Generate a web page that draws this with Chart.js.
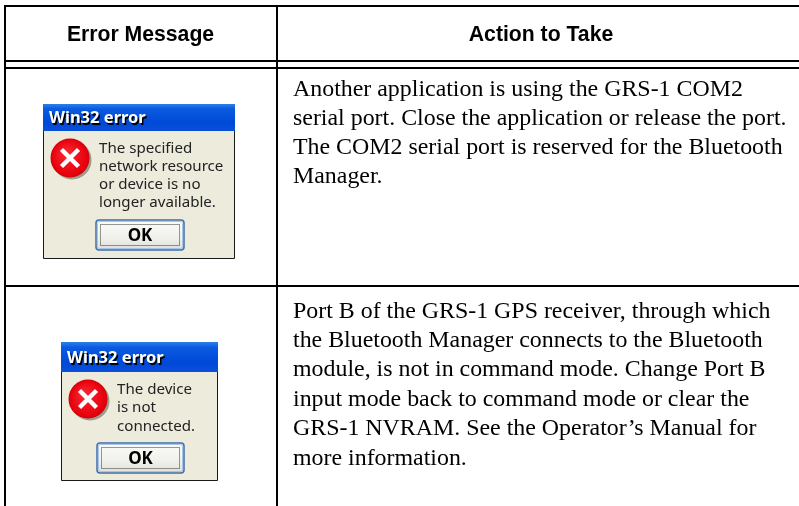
<!DOCTYPE html>
<html>
<head>
<meta charset="utf-8">
<style>
html, body { margin: 0; padding: 0; background: #fff; overflow: hidden; }
canvas { display: block; }
</style>
<script src="https://cdn.jsdelivr.net/npm/chart.js@4"></script>
</head>
<body>
<canvas id="table_chart" width="799" height="506"></canvas>
<script>
const headers = ['Error Message', 'Action to Take'];
const dialogTitle = 'Win32 error';
const buttonLabel = 'OK';
const messageOne = ['The specified', 'network resource', 'or device is no', 'longer available.'];
const messageTwo = ['The device', 'is not', 'connected.'];
const actionOne = [
    'Another application is using the GRS-1 COM2',
    'serial port. Close the application or release the port.',
    'The COM2 serial port is reserved for the Bluetooth',
    'Manager.'
];
const actionTwo = [
    'Port B of the GRS-1 GPS receiver, through which',
    'the Bluetooth Manager connects to the Bluetooth',
    'module, is not in command mode. Change Port B',
    'input mode back to command mode or clear the',
    'GRS-1 NVRAM. See the Operator\u2019s Manual for',
    'more information.'
];

// table rules, in page units (the scales below map 1:1 to the canvas)
const rowRules = [6, 61, 68, 286];
const columnRules = [5, 277];

const ruleSets = [
    ...rowRules.map(y => [{ x: 4, y: y }, { x: 799, y: y }]),
    ...columnRules.map(x => [{ x: x, y: 5 }, { x: x, y: 506 }])
];

function roundRect(ctx, x, y, w, h, r) {
    ctx.beginPath();
    ctx.roundRect(x, y, w, h, r);
}

function drawDialog(ctx, sx, sy, d) {
    const x = sx(d.x), y = sy(d.y), w = sx(d.x2) - x, h = sy(d.y2) - y;
    const titleH = sy(d.titleBottom) - y;

    ctx.fillStyle = '#ecebdc';
    ctx.fillRect(x, y, w, h);

    const grad = ctx.createLinearGradient(0, y, 0, y + titleH);
    grad.addColorStop(0, '#2f7fe8');
    grad.addColorStop(0.18, '#0a5be0');
    grad.addColorStop(0.7, '#0048d8');
    grad.addColorStop(1, '#0a50d8');
    ctx.fillStyle = grad;
    ctx.fillRect(x, y, w, titleH);

    ctx.strokeStyle = '#1a1a1a';
    ctx.lineWidth = 1;
    ctx.beginPath();
    ctx.moveTo(x + 0.5, y + titleH);
    ctx.lineTo(x + 0.5, y + h - 0.5);
    ctx.lineTo(x + w - 0.5, y + h - 0.5);
    ctx.lineTo(x + w - 0.5, y + titleH);
    ctx.stroke();

    ctx.filter = 'blur(0.4px)';

    // title
    ctx.textAlign = 'left';
    ctx.textBaseline = 'alphabetic';
    ctx.font = 'bold 16.5px "Noto Sans"';
    ctx.fillStyle = '#000';
    ctx.fillText(dialogTitle, sx(d.titleX) + 1.5, sy(d.titleY) + 1.5);
    ctx.fillStyle = '#fff';
    ctx.fillText(dialogTitle, sx(d.titleX), sy(d.titleY));

    // icon
    const cx = sx(d.iconX), cy = sy(d.iconY);
    ctx.fillStyle = 'rgba(90,90,80,0.55)';
    ctx.beginPath();
    ctx.arc(cx + 2, cy + 2, 19.5, 0, Math.PI * 2);
    ctx.fill();
    const red = ctx.createRadialGradient(cx - 4, cy - 5, 3, cx, cy, 20);
    red.addColorStop(0, '#f5252f');
    red.addColorStop(0.85, '#e8000c');
    red.addColorStop(1, '#c80008');
    ctx.fillStyle = red;
    ctx.beginPath();
    ctx.arc(cx, cy, 19.5, 0, Math.PI * 2);
    ctx.fill();
    ctx.strokeStyle = '#fff';
    ctx.lineWidth = 4.5;
    ctx.beginPath();
    ctx.moveTo(cx - 8.5, cy - 8.5);
    ctx.lineTo(cx + 8.5, cy + 8.5);
    ctx.moveTo(cx + 8.5, cy - 8.5);
    ctx.lineTo(cx - 8.5, cy + 8.5);
    ctx.stroke();

    // message
    ctx.fillStyle = '#222';
    ctx.font = '15.1px "Noto Sans"';
    d.lines.forEach((line, i) => {
        ctx.fillText(line, sx(d.textX), sy(d.textY + i * d.textStep));
    });

    // button
    const bx = sx(d.btnX), by = sy(d.btnY), bw = sx(d.btnX2) - bx, bh = sy(d.btnY2) - by;
    const face = ctx.createLinearGradient(0, by, 0, by + bh);
    face.addColorStop(0, '#fbfbf8');
    face.addColorStop(0.6, '#f1f1ec');
    face.addColorStop(1, '#dcdcd8');
    roundRect(ctx, bx + 1, by + 1, bw - 2, bh - 2, 3);
    ctx.fillStyle = face;
    ctx.fill();
    ctx.strokeStyle = '#3f6fa8';
    ctx.lineWidth = 1.5;
    ctx.stroke();
    roundRect(ctx, bx + 2.5, by + 2.5, bw - 5, bh - 5, 2);
    ctx.strokeStyle = '#a8c4ea';
    ctx.lineWidth = 1;
    ctx.stroke();
    ctx.strokeStyle = '#333';
    ctx.setLineDash([1, 1]);
    ctx.strokeRect(bx + 5.5, by + 5.5, bw - 11, bh - 11);
    ctx.setLineDash([]);
    ctx.fillStyle = '#000';
    ctx.font = 'bold 17px "Noto Sans"';
    ctx.textAlign = 'center';
    ctx.fillText(buttonLabel, bx + bw / 2, by + bh / 2 + 6);
    ctx.textAlign = 'left';
    ctx.filter = 'none';
}

const dialogs = [
    { x: 43, y: 104, x2: 235, y2: 259, titleBottom: 131, titleX: 49, titleY: 123,
      iconX: 70, iconY: 158, textX: 99, textY: 153, textStep: 18, lines: messageOne,
      btnX: 95, btnY: 219, btnX2: 185, btnY2: 251 },
    { x: 61, y: 342, x2: 218, y2: 481, titleBottom: 372, titleX: 67, titleY: 363,
      iconX: 88, iconY: 399, textX: 117, textY: 394, textStep: 18.3, lines: messageTwo,
      btnX: 96, btnY: 442, btnX2: 185, btnY2: 474 }
];

const tablePlugin = {
    id: 'tableText',
    afterDraw(chart) {
        const ctx = chart.ctx;
        const sx = v => chart.scales.x.getPixelForValue(v);
        const sy = v => chart.scales.y.getPixelForValue(v);
        ctx.save();

        ctx.fillStyle = '#000';
        ctx.textBaseline = 'alphabetic';
        ctx.textAlign = 'center';
        ctx.font = 'bold 21.2px "Liberation Sans"';
        ctx.fillText(headers[0], sx(140.5), sy(41));
        ctx.fillText(headers[1], sx(541), sy(41));

        ctx.textAlign = 'left';
        ctx.font = '23.9px "Liberation Serif"';
        actionOne.forEach((line, i) => ctx.fillText(line, sx(293), sy(95.5 + i * 29.1)));
        actionTwo.forEach((line, i) => ctx.fillText(line, sx(293), sy(317.5 + i * 29.4)));

        dialogs.forEach(d => drawDialog(ctx, sx, sy, d));
        ctx.restore();
    }
};

new Chart(document.getElementById('table_chart').getContext('2d'), {
    type: 'scatter',
    data: {
        datasets: ruleSets.map(points => ({
            data: points,
            showLine: true,
            borderColor: '#000',
            borderWidth: 2,
            pointRadius: 0,
            clip: false
        }))
    },
    options: {
        responsive: false,
        animation: false,
        layout: { padding: 0 },
        plugins: { legend: { display: false }, tooltip: { enabled: false } },
        scales: {
            x: { type: 'linear', display: false, min: 0, max: 799 },
            y: { type: 'linear', display: false, min: 0, max: 506, reverse: true }
        }
    },
    plugins: [tablePlugin]
});
</script>
</body>
</html>
